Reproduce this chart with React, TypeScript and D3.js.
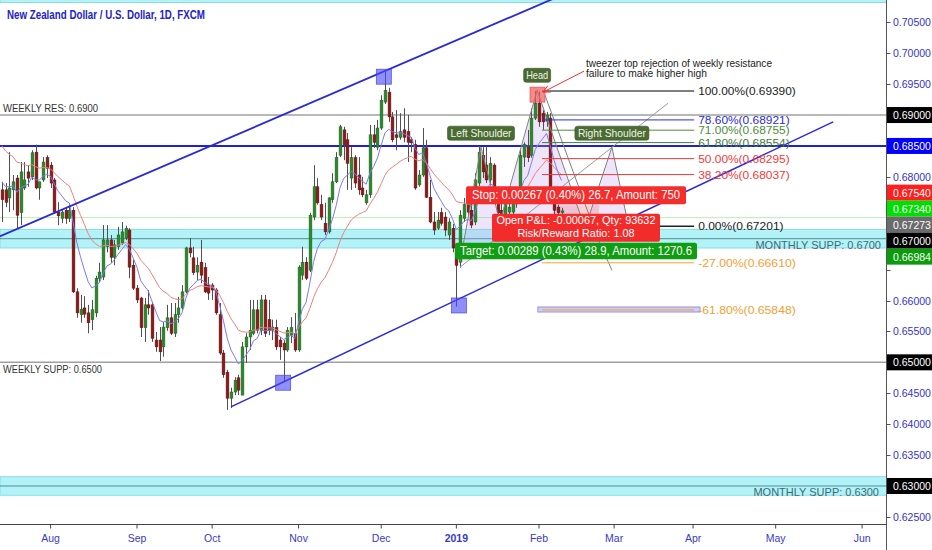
import React from "react";
import * as d3 from "d3";

const W = 932;
const H = 550;
const AXIS_X = 886.5;
const AXIS_Y = 524.5;
const FONT = "'Liberation Sans', Arial, sans-serif";

const startDate = "2018-07-13";
const endDate = "2019-06-21";
const holidays = ["2018-12-25", "2019-01-01"];

// [open, high, low, close], daily from 13 Jul 2018
const candles: [number, number, number, number][] = [
  [0.6779, 0.6792, 0.6727, 0.6763],
  [0.6779, 0.679, 0.6751, 0.6759],
  [0.6766, 0.684, 0.6743, 0.6782],
  [0.6779, 0.6803, 0.6746, 0.6792],
  [0.6798, 0.6803, 0.6717, 0.6738],
  [0.6742, 0.6824, 0.6722, 0.6808],
  [0.6782, 0.6824, 0.6779, 0.6795],
  [0.6808, 0.6819, 0.6784, 0.6798],
  [0.68, 0.6843, 0.6795, 0.6839],
  [0.684, 0.6852, 0.678, 0.6782],
  [0.6782, 0.6792, 0.6763, 0.6792],
  [0.6795, 0.6832, 0.6792, 0.6824],
  [0.6831, 0.6835, 0.6798, 0.6814],
  // Aug
  [0.6819, 0.6824, 0.6782, 0.679],
  [0.6795, 0.6798, 0.674, 0.6743],
  [0.6743, 0.6759, 0.6722, 0.6737],
  [0.6733, 0.6746, 0.6725, 0.6743],
  [0.6746, 0.675, 0.6724, 0.6733],
  [0.6733, 0.6755, 0.6727, 0.6746],
  [0.6746, 0.6751, 0.6612, 0.6614],
  [0.6614, 0.662, 0.6572, 0.658],
  [0.6577, 0.6609, 0.6564, 0.6586],
  [0.6588, 0.6607, 0.6572, 0.6578],
  [0.658, 0.6593, 0.6547, 0.6564],
  [0.6569, 0.6601, 0.6552, 0.6585],
  [0.658, 0.664, 0.6573, 0.6636],
  [0.6636, 0.6661, 0.663, 0.6646],
  [0.6638, 0.6722, 0.6633, 0.6698],
  [0.6687, 0.6722, 0.6678, 0.6698],
  [0.6698, 0.6706, 0.6661, 0.667],
  [0.667, 0.6698, 0.6657, 0.669],
  [0.6687, 0.6719, 0.6682, 0.6706],
  [0.6693, 0.6727, 0.669, 0.6711],
  [0.6701, 0.6721, 0.6698, 0.6717],
  [0.6714, 0.6717, 0.6636, 0.6654],
  [0.6657, 0.6666, 0.6617, 0.662],
  // Sep
  [0.662, 0.6625, 0.6596, 0.6601],
  [0.6604, 0.6606, 0.6541, 0.6556],
  [0.6556, 0.6604, 0.6533, 0.6593],
  [0.6593, 0.6617, 0.6577, 0.6588],
  [0.6593, 0.6598, 0.6533, 0.6539],
  [0.6536, 0.6549, 0.6517, 0.6525],
  [0.6536, 0.6557, 0.6502, 0.6517],
  [0.6525, 0.6565, 0.6509, 0.6557],
  [0.6556, 0.6593, 0.6551, 0.6572],
  [0.6572, 0.6596, 0.6544, 0.6547],
  [0.6547, 0.6596, 0.6541, 0.6577],
  [0.6577, 0.6606, 0.6564, 0.6588],
  [0.6588, 0.6625, 0.6585, 0.6614],
  [0.6614, 0.6687, 0.6612, 0.6685],
  [0.6685, 0.6701, 0.667, 0.6677],
  [0.6669, 0.6687, 0.6641, 0.6645],
  [0.6646, 0.667, 0.6633, 0.6657],
  [0.6662, 0.6698, 0.6628, 0.6641],
  [0.6653, 0.6661, 0.6612, 0.6614],
  [0.6625, 0.6638, 0.6601, 0.6612],
  // Oct
  [0.6625, 0.6628, 0.6601, 0.6617],
  [0.6617, 0.662, 0.6577, 0.658],
  [0.6577, 0.6596, 0.6512, 0.6515],
  [0.6515, 0.652, 0.6475, 0.648],
  [0.6484, 0.6488, 0.6423, 0.6442],
  [0.6442, 0.6459, 0.6426, 0.6452],
  [0.6452, 0.6476, 0.6447, 0.6471],
  [0.6475, 0.648, 0.6447, 0.6455],
  [0.6447, 0.6533, 0.6447, 0.6525],
  [0.6525, 0.6547, 0.6499, 0.6541],
  [0.6541, 0.6601, 0.652, 0.6552],
  [0.6547, 0.6601, 0.6544, 0.6585],
  [0.6585, 0.6601, 0.6547, 0.6552],
  [0.6552, 0.6609, 0.6544, 0.6601],
  [0.6601, 0.6609, 0.6541, 0.6547],
  [0.6569, 0.6601, 0.6544, 0.6552],
  [0.6552, 0.6569, 0.6536, 0.6557],
  [0.6556, 0.6569, 0.652, 0.6525],
  [0.6536, 0.6541, 0.6504, 0.6525],
  [0.6531, 0.6536, 0.6468, 0.652],
  [0.652, 0.6557, 0.6517, 0.6552],
  [0.6544, 0.6573, 0.6531, 0.6556],
  [0.6547, 0.658, 0.6517, 0.652],
  // Nov
  [0.652, 0.6657, 0.6517, 0.6654],
  [0.6641, 0.6687, 0.6633, 0.6662],
  [0.6662, 0.667, 0.6633, 0.6636],
  [0.6649, 0.6742, 0.6646, 0.6738],
  [0.6735, 0.6819, 0.673, 0.6784],
  [0.6784, 0.6798, 0.6755, 0.6758],
  [0.6755, 0.6771, 0.673, 0.6735],
  [0.6725, 0.6758, 0.6706, 0.6711],
  [0.6711, 0.6767, 0.6708, 0.6766],
  [0.6763, 0.6806, 0.6758, 0.6792],
  [0.6792, 0.684, 0.679, 0.6831],
  [0.6835, 0.6884, 0.6832, 0.6881],
  [0.6876, 0.6881, 0.6827, 0.6852],
  [0.686, 0.6871, 0.6779, 0.6822],
  [0.6798, 0.6848, 0.6779, 0.6831],
  [0.6831, 0.6835, 0.6782, 0.679],
  [0.6803, 0.6832, 0.6771, 0.6779],
  [0.6782, 0.68, 0.6767, 0.6771],
  [0.6758, 0.6779, 0.6755, 0.6771],
  [0.6771, 0.6884, 0.6766, 0.6868],
  [0.6868, 0.6884, 0.6847, 0.6856],
  [0.6848, 0.6892, 0.6843, 0.6879],
  // Dec
  [0.6879, 0.6932, 0.6876, 0.6924],
  [0.6921, 0.697, 0.6918, 0.694],
  [0.6937, 0.6944, 0.6889, 0.6897],
  [0.6897, 0.6905, 0.6856, 0.686],
  [0.6868, 0.6908, 0.6843, 0.6864],
  [0.6864, 0.6903, 0.686, 0.6873],
  [0.6876, 0.6911, 0.6856, 0.6864],
  [0.6873, 0.69, 0.6824, 0.6856],
  [0.686, 0.6864, 0.684, 0.6855],
  [0.6852, 0.686, 0.6779, 0.6782],
  [0.6787, 0.6811, 0.6784, 0.6803],
  [0.6803, 0.6879, 0.68, 0.6847],
  [0.6847, 0.686, 0.6766, 0.6767],
  [0.6767, 0.6795, 0.6725, 0.6727],
  [0.6727, 0.6743, 0.6706, 0.6714],
  [0.6717, 0.6743, 0.6714, 0.673],
  [0.6742, 0.675, 0.6721, 0.6725],
  [0.6735, 0.6743, 0.6704, 0.6714],
  [0.6706, 0.6733, 0.6698, 0.6727],
  [0.6717, 0.6724, 0.6678, 0.6685],
  // Jan 2019
  [0.6685, 0.6691, 0.659, 0.6657],
  [0.6662, 0.6746, 0.6653, 0.6738],
  [0.6733, 0.6766, 0.6727, 0.6755],
  [0.6755, 0.6771, 0.6738, 0.6743],
  [0.6746, 0.6767, 0.6717, 0.6722],
  [0.6727, 0.6806, 0.6722, 0.6795],
  [0.679, 0.685, 0.6785, 0.684],
  [0.6835, 0.6848, 0.6798, 0.6808],
  [0.6819, 0.6848, 0.679, 0.6795],
  [0.6795, 0.6832, 0.6787, 0.6822],
  [0.6819, 0.6822, 0.6771, 0.6774],
  [0.6776, 0.6784, 0.6735, 0.6742],
  [0.6746, 0.6758, 0.673, 0.6737],
  [0.6737, 0.6766, 0.673, 0.6755],
  [0.6743, 0.6763, 0.6733, 0.6751],
  [0.6743, 0.6774, 0.6737, 0.6766],
  [0.6758, 0.6766, 0.675, 0.6758],
  [0.6763, 0.6843, 0.6758, 0.6835],
  [0.6832, 0.6856, 0.6816, 0.6852],
  [0.6848, 0.6876, 0.6824, 0.6831],
  [0.6835, 0.6911, 0.6831, 0.6895],
  [0.6895, 0.6939, 0.6892, 0.6919],
  // Feb
  [0.6919, 0.6938, 0.6881, 0.6889],
  [0.6903, 0.6908, 0.6876, 0.6889],
  [0.689, 0.6905, 0.6881, 0.69],
  [0.6895, 0.6903, 0.6774, 0.6779],
  [0.6763, 0.6776, 0.6737, 0.6746],
  [0.6751, 0.6755, 0.6733, 0.6742],
  [0.6742, 0.675, 0.6737, 0.6745],
];

const fastMa = { period: 8, seed: 0.68, color: "#7b7bf0" };
const slowMa = { period: 21, seed: 0.6859, color: "#f08080" };

const priceTicks = [0.625, 0.63, 0.635, 0.64, 0.645, 0.65, 0.655, 0.66, 0.665, 0.67, 0.675, 0.68, 0.685, 0.69, 0.695, 0.7, 0.705];
const priceTickLabels = ["0.62500", "0.63000", "0.63500", "0.64000", "0.64500", "0.65000", "0.65500", "0.66000", "0.66500", "0.67000", "0.67500", "0.68000", "0.68500", "0.69000", "0.69500", "0.70000", "0.70500"];

const monthTickDates = ["2018-08-01", "2018-09-03", "2018-10-01", "2018-11-01", "2018-12-03", "2019-01-02", "2019-02-01", "2019-03-01", "2019-04-01", "2019-05-01", "2019-06-03"];
const monthTickLabels = ["Aug", "Sep", "Oct", "Nov", "Dec", "2019", "Feb", "Mar", "Apr", "May", "Jun"];

// horizontal levels drawn across the whole chart
const levelPrices = [0.69, 0.685, 0.65, 0.6734];
const levelColors = ["#a0a0a0", "#1f1fd8", "#a0a0a0", "#b8ecb8"];
const levelWidths = [1.5, 2, 1.5, 1];

// support / resistance zones [low, high, mid]
const zoneRanges: [number, number, number | null][] = [
  [0.6685, 0.6715, 0.67],
  [0.6285, 0.6315, 0.63],
  [0.7082, 0.716, null],
];

const levelTextLabels = ["WEEKLY RES: 0.6900", "WEEKLY SUPP: 0.6500", "MONTHLY SUPP: 0.6700", "MONTHLY SUPP: 0.6300"];
const levelTextPrices = [0.69, 0.65, 0.67, 0.63];

// price axis markers
const markerPrices = [0.69, 0.685, 0.6754, 0.6734, 0.67273, 0.67, 0.66984, 0.65, 0.63];
const markerColors = ["#000000", "#0000ff", "#ff1f1f", "#00df00", "#6b6b6b", "#000000", "#0b9c0b", "#000000", "#000000"];

// channel trend lines: [barIndex, price]
const upperChannel: [number, number][] = [[0, 0.6705], [146, 0.7086]];
const lowerChannel: [number, number][] = [[61.0, 0.6428], [221.3, 0.6889]];

const blueSquares: [number, number][] = [[101.7, 0.6962], [74.9, 0.6467], [121.7, 0.6592]];
const headSquare: [number, number] = [142.6, 0.6933];

// head and shoulders pattern
const hsPoints: [number, number][] = [
  [121.97, 0.6662], [127.56, 0.6848], [132.6, 0.6727], [142.5, 0.694], [155.25, 0.6717], [162.4, 0.6848], [166.96, 0.6717],
];
const extraLine: [number, number][] = [[144.6, 0.6932], [158.4, 0.6704], [162.4, 0.6649]];
const longLine: [number, number][] = [[121.97, 0.6654], [177.3, 0.6919]];

// fibonacci retracement
const fibLabels = ["100.00%(0.69390)", "78.60%(0.68921)", "71.00%(0.68755)", "61.80%(0.68554)", "50.00%(0.68295)", "38.20%(0.68037)", "0.00%(0.67201)", "-27.00%(0.66610)", "-61.80%(0.65848)"];
const fibPrices = [0.6939, 0.68921, 0.68755, 0.68554, 0.68295, 0.68037, 0.67201, 0.6661, 0.65848];
const fibColors = ["#555555", "#2c2cd8", "#4f8c3a", "#3f7c30", "#f03a3a", "#f03a3a", "#222222", "#f5a033", "#f5a033"];
const fibRange: [number, number] = [143.8, 184.3];
const fibBox: [number, number, number, number] = [142.7, 185.85, 0.65814, 0.65895];

// short position tool
const position = { start: 146.7, end: 159.0, entry: 0.67273, stop: 0.6754, target: 0.66984 };
const positionTexts = ["Stop: 0.00267 (0.40%) 26.7, Amount: 750", "Open P&L: -0.00067, Qty: 93632", "Risk/Reward Ratio: 1.08", "Target: 0.00289 (0.43%) 28.9, Amount: 1270.6"];

const noteLines = ["tweezer top rejection of weekly resistance", "failure to make higher high"];
const noteAnchor: [number, number] = [155.5, 0.6978];
const arrowLine: [number, number][] = [[154.98, 0.6971], [144.06, 0.6937]];

function buildTradingDays(): string[] {
  const out: string[] = [];
  const end = new Date(endDate + "T00:00:00Z").getTime();
  for (let t = new Date(startDate + "T00:00:00Z").getTime(); t <= end; t += 86400000) {
    const d = new Date(t);
    const wd = d.getUTCDay();
    const iso = d.toISOString().slice(0, 10);
    if (wd === 0 || wd === 6 || holidays.includes(iso)) continue;
    out.push(iso);
  }
  return out;
}

function ema(values: number[], period: number, seed: number) {
  const a = 2 / (period + 1);
  let e = seed;
  return values.map((v) => (e = e + a * (v - e)));
}

export default function App() {
  const days = buildTradingDays();
  const x = d3.scaleLinear().domain([0, 1]).range([1.76, 1.76 + 3.757]);
  const y = d3.scaleLinear().domain([0.625, 0.705]).range([516.9, 22.3]);
  const closes = candles.map((c) => c[3]);
  const fast = ema(closes, fastMa.period, fastMa.seed);
  const slow = ema(closes, slowMa.period, slowMa.seed);
  const maLine = d3.line<number>().x((_, i) => x(i)).y((v) => y(v));
  const ptLine = d3.line<[number, number]>().x((d) => x(d[0])).y((d) => y(d[1]));

  const extend = (pts: [number, number][], i0: number, i1: number): [number, number][] => {
    const [a, b] = pts;
    const s = (b[1] - a[1]) / (b[0] - a[0]);
    return [[i0, a[1] + s * (i0 - a[0])], [i1, a[1] + s * (i1 - a[0])]];
  };

  // axis marker label layout
  const LH = 16;
  const marks = markerPrices
    .map((p, i) => ({ p, color: markerColors[i], y: y(p) }))
    .sort((a, b) => a.y - b.y);
  let groups = marks.map((m) => ({ items: [m], c: m.y }));
  let merged = true;
  while (merged) {
    merged = false;
    for (let i = 0; i < groups.length - 1; i++) {
      const g1 = groups[i], g2 = groups[i + 1];
      const b1 = g1.c + (g1.items.length * LH) / 2;
      const t2 = g2.c - (g2.items.length * LH) / 2;
      if (t2 < b1) {
        const items = [...g1.items, ...g2.items];
        groups.splice(i, 2, { items, c: d3.mean(items, (d) => d.y) as number });
        merged = true;
        break;
      }
    }
  }
  const placed: { p: number; color: string; cy: number }[] = [];
  groups.forEach((g) => {
    const top = g.c - (g.items.length * LH) / 2;
    g.items.forEach((m, k) => placed.push({ p: m.p, color: m.color, cy: top + LH * k + LH / 2 }));
  });

  const green = "#2c8a2c";
  const red = "#8c1c1c";

  const hs = hsPoints.map((d) => [x(d[0]), y(d[1])]);
  const posCx = (x(position.start) + x(position.end)) / 2;

  const tag = (cx: number, cy: number, text: string, w: number, tl: number) => (
    <g key={text}>
      <rect x={cx - w / 2} y={cy - 7} width={w} height={14} rx={2.5} fill="#4b6b34" stroke="#3a5628" strokeWidth={0.6} />
      <text x={cx} y={cy + 4} textAnchor="middle" fontSize={11} fill="#eef5e6" textLength={tl} lengthAdjust="spacingAndGlyphs">
        {text}
      </text>
    </g>
  );

  const a0 = [x(arrowLine[0][0]), y(arrowLine[0][1])];
  const a1 = [x(arrowLine[1][0]), y(arrowLine[1][1])];
  const ang = Math.atan2(a1[1] - a0[1], a1[0] - a0[0]);
  const head = (da: number) => [a1[0] - 8 * Math.cos(ang + da), a1[1] - 8 * Math.sin(ang + da)];

  return (
    <svg width={W} height={H} style={{ position: "fixed", left: 0, top: 0, background: "#fff", fontFamily: FONT }}>
      <defs>
        <clipPath id="plot">
          <rect x={0} y={0} width={AXIS_X} height={AXIS_Y} />
        </clipPath>
      </defs>
      <rect x={0} y={0} width={W} height={H} fill="#fff" />
      <g clipPath="url(#plot)">
        {zoneRanges.map(([lo, hi, mid], i) => (
          <g key={"z" + i}>
            <rect x={0} y={y(hi)} width={AXIS_X} height={y(lo) - y(hi)} fill="#b3f3f8" stroke="#86dde6" strokeWidth={1} />
            {mid !== null && <line x1={0} x2={AXIS_X} y1={y(mid)} y2={y(mid)} stroke="#4d8f94" strokeWidth={1} />}
          </g>
        ))}
        {levelPrices.map((p, i) => (
          <line key={"l" + i} x1={0} x2={AXIS_X} y1={y(p)} y2={y(p)} stroke={levelColors[i]} strokeWidth={levelWidths[i]} />
        ))}
        <rect x={x(position.start)} y={y(position.stop)} width={x(position.end) - x(position.start)} height={y(position.entry) - y(position.stop)} fill="rgba(245,90,90,0.28)" />
        <rect x={x(position.start)} y={y(position.entry)} width={x(position.end) - x(position.start)} height={y(position.target) - y(position.entry)} fill="rgba(90,200,90,0.25)" />
        <path d={"M" + hs.map((p) => p.join(",")).join("L") + "Z"} fill="rgba(190,150,235,0.25)" stroke="none" />
        {candles.map(([o, h, l, c], i) => {
          const cx = Math.round(x(i)) + 0.5;
          const up = c >= o;
          const top = y(Math.max(o, c));
          const bh = Math.max(1, Math.abs(y(o) - y(c)));
          return (
            <g key={"c" + i}>
              <line x1={cx} x2={cx} y1={y(h)} y2={y(l)} stroke="#505050" strokeWidth={1} />
              <rect x={cx - 1.4} y={top} width={2.8} height={bh} fill={up ? green : red} stroke={up ? "#1d5e1d" : "#5a1010"} strokeWidth={0.5} />
            </g>
          );
        })}
        <path d={maLine(slow) || ""} fill="none" stroke={slowMa.color} strokeWidth={1} />
        <path d={maLine(fast) || ""} fill="none" stroke={fastMa.color} strokeWidth={1} />
        <path d={ptLine(extend(upperChannel, -2, 150)) || ""} stroke="#2a2ad6" strokeWidth={1.8} fill="none" />
        <path d={ptLine(lowerChannel) || ""} stroke="#2a2ad6" strokeWidth={1.5} fill="none" />
        <path d={ptLine(hsPoints) || ""} stroke="#808080" strokeWidth={1} fill="none" />
        <path d={ptLine([hsPoints[2], hsPoints[4]]) || ""} stroke="#808080" strokeWidth={1} fill="none" />
        <path d={ptLine(extraLine) || ""} stroke="#808080" strokeWidth={1} fill="none" />
        <path d={ptLine(longLine) || ""} stroke="#9a9a9a" strokeWidth={1} fill="none" />
        <rect x={x(fibBox[0])} y={y(fibBox[3])} width={x(fibBox[1]) - x(fibBox[0])} height={y(fibBox[2]) - y(fibBox[3])} fill="#cfcff5" stroke="#9494dc" strokeWidth={1} />
        {fibPrices.map((p, i) => (
          <g key={"f" + i}>
            <line x1={x(fibRange[0])} x2={x(fibRange[1])} y1={y(p)} y2={y(p)} stroke={fibColors[i]} strokeWidth={i === 0 || i === 6 ? 1.5 : 1} />
            <text x={x(fibRange[1]) + 4} y={y(p) + 4} fontSize={11.5} fill={fibColors[i] === "#555555" ? "#222" : fibColors[i]} textLength={fibLabels[i].length * 6.1} lengthAdjust="spacingAndGlyphs">
              {fibLabels[i]}
            </text>
          </g>
        ))}
        {blueSquares.map(([i, p], k) => (
          <rect key={"s" + k} x={x(i) - 7.5} y={y(p) - 7.5} width={15} height={15} fill="rgba(75,75,245,0.62)" stroke="rgba(60,60,230,0.8)" strokeWidth={0.8} />
        ))}
        <rect x={x(headSquare[0]) - 7.5} y={y(headSquare[1]) - 7.5} width={15} height={15} fill="rgba(240,90,90,0.7)" stroke="rgba(230,70,70,0.8)" strokeWidth={0.8} />
        {tag(hs[3][0], hs[3][1] - 15, "Head", 27, 22)}
        {tag(hs[1][0], hs[1][1] - 14, "Left Shoulder", 67, 61)}
        {tag(hs[5][0], hs[5][1] - 14, "Right Shoulder", 74, 68)}
        {noteLines.map((t, i) => (
          <text key={"n" + i} x={x(noteAnchor[0])} y={y(noteAnchor[1]) + i * 10.5} fontSize={10.5} fill="#222" textLength={i === 0 ? 186 : 121} lengthAdjust="spacingAndGlyphs">
            {t}
          </text>
        ))}
        <line x1={a0[0]} y1={a0[1]} x2={a1[0]} y2={a1[1]} stroke="#f03030" strokeWidth={1} />
        <polyline points={[head(0.45), a1, head(-0.45)].map((p) => p.join(",")).join(" ")} fill="none" stroke="#f03030" strokeWidth={1} />
        <rect x={posCx - 110} y={y(position.stop) - 19} width={220} height={18} rx={2} fill="#f42d2d" />
        <text x={posCx} y={y(position.stop) - 6} textAnchor="middle" fontSize={12} fill="#fff" textLength={208} lengthAdjust="spacingAndGlyphs">{positionTexts[0]}</text>
        <rect x={posCx - 84} y={y(position.entry) - 8} width={168} height={28} rx={2} fill="#f22b2b" />
        <text x={posCx} y={y(position.entry) + 2.5} textAnchor="middle" fontSize={11.5} fill="#fff" textLength={159} lengthAdjust="spacingAndGlyphs">{positionTexts[1]}</text>
        <text x={posCx} y={y(position.entry) + 15} textAnchor="middle" fontSize={11.5} fill="#fff" textLength={117} lengthAdjust="spacingAndGlyphs">{positionTexts[2]}</text>
        <rect x={posCx - 121} y={y(position.target) + 3} width={242} height={16.5} rx={2} fill="#0f9d12" />
        <text x={posCx} y={y(position.target) + 15.5} textAnchor="middle" fontSize={12} fill="#fff" textLength={232} lengthAdjust="spacingAndGlyphs">{positionTexts[3]}</text>
        <text x={3} y={y(levelTextPrices[0]) - 3} fontSize={11} fill="#333" textLength={95} lengthAdjust="spacingAndGlyphs">{levelTextLabels[0]}</text>
        <text x={3} y={y(levelTextPrices[1]) + 11} fontSize={11} fill="#333" textLength={99} lengthAdjust="spacingAndGlyphs">{levelTextLabels[1]}</text>
        <text x={881} y={y(levelTextPrices[2]) + 10} fontSize={11} fill="#3a6b75" textAnchor="end">{levelTextLabels[2]}</text>
        <text x={879} y={y(levelTextPrices[3]) + 10} fontSize={11} fill="#3a6b75" textAnchor="end">{levelTextLabels[3]}</text>
        <text x={7} y={19} fontSize={12} fontWeight="bold" fill="#2323c6" textLength={198} lengthAdjust="spacingAndGlyphs">
          New Zealand Dollar / U.S. Dollar, 1D, FXCM
        </text>
      </g>
      <line x1={AXIS_X} x2={AXIS_X} y1={0} y2={H} stroke="#555" strokeWidth={1} />
      <line x1={0} x2={AXIS_X} y1={AXIS_Y} y2={AXIS_Y} stroke="#444" strokeWidth={1} />
      {priceTicks.map((p, i) => {
        const ty = y(p);
        const hidden = placed.some((m) => Math.abs(m.cy - ty) < 14);
        return (
          <g key={"pt" + i}>
            <line x1={AXIS_X} x2={AXIS_X + 4} y1={Math.round(ty) + 0.5} y2={Math.round(ty) + 0.5} stroke="#555" />
            {!hidden && (
              <text x={893} y={ty + 4} fontSize={10.5} fill="#3434c4">
                {priceTickLabels[i]}
              </text>
            )}
          </g>
        );
      })}
      {placed.map((m, i) => (
        <g key={"m" + i}>
          <rect x={AXIS_X + 0.5} y={m.cy - LH / 2} width={W - AXIS_X} height={LH} fill={m.color} />
          <text x={893} y={m.cy + 4} fontSize={10.5} fill="#fff">
            {m.p.toFixed(5)}
          </text>
        </g>
      ))}
      {monthTickDates.map((d, i) => {
        const idx = days.indexOf(d);
        const tx = x(idx);
        return (
          <g key={"mt" + i}>
            <line x1={tx} x2={tx} y1={AXIS_Y} y2={AXIS_Y + 4} stroke="#444" />
            <text x={tx} y={542} textAnchor="middle" fontSize={10.5} fill="#3a3ac6" fontWeight={monthTickLabels[i] === "2019" ? "bold" : "normal"}>
              {monthTickLabels[i]}
            </text>
          </g>
        );
      })}
    </svg>
  );
}
